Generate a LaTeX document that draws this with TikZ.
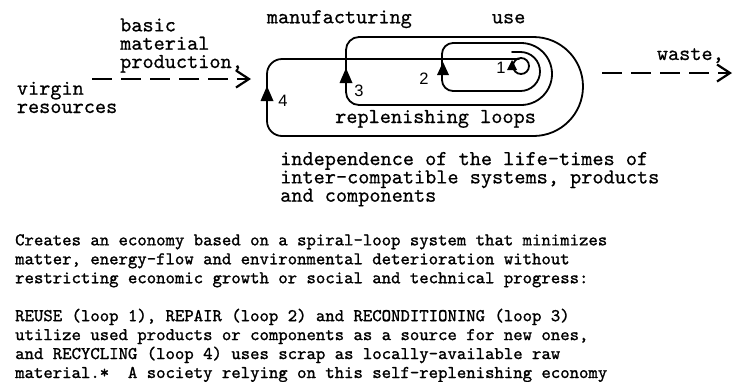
\documentclass[tikz,border=0pt]{standalone}
\usepackage{fontspec}
\newfontfamily\numfont{Liberation Sans}
\newfontfamily\typefont[Extension=.otf, FakeBold=0.6]{lmmono10-regular}
\newfontfamily\bodyfont[Extension=.otf, FakeBold=1.2]{lmmono10-regular}
\usetikzlibrary{arrows.meta}
\tikzset{
  lbl/.style={font=\typefont\fontsize{21.24}{18.3}\selectfont, inner sep=0pt, anchor=base west, align=left},
  body/.style={font=\bodyfont\fontsize{17.9}{18.95}\selectfont, inner sep=0pt, anchor=base west, align=left},
  num/.style={font=\numfont\fontsize{16.5}{16.5}\selectfont, inner sep=0pt},
  loopline/.style={line width=1.8pt, line cap=round, line join=round},
  flow/.style={line width=2.2pt, dash pattern=on 20pt off 9pt, -{Straight Barb[length=13pt,width=17pt,line width=2.2pt]}},
  tip/.style={fill=black}
}
\begin{document}
\begin{tikzpicture}[x=1pt,y=-1pt]
\useasboundingbox (0,0) rectangle (735,381);
% labels (anchored at the baseline of their last line)
\node[lbl] (basic) at (120,68) {basic\\material\\production,};
\node[lbl] (virgin) at (16.7,113) {virgin\\resources};
\node[lbl] (manuf) at (266.7,23.3) {manufacturing};
\node[lbl] (use) at (491.7,23.3) {use};
\node[lbl] (waste) at (656.7,60) {waste,};
\node[lbl] (replen) at (335,123) {replenishing loops};
\node[lbl] (indep) at (280,201.7) {independence of the life-times of\\inter-compatible systems, products\\and components};
% numbers
\node[num] (n4) at (283,101) {4};
\node[num] (n3) at (359,91) {3};
\node[num] (n2) at (424,79) {2};
\node[num] (n1) at (501,68) {1};
% flow arrows
\coordinate (inS) at (92,79);
\coordinate (inE) at (251,79);
\coordinate (outS) at (602,73);
\coordinate (outE) at (732,73);
\draw[flow] (inS) -- (inE);
\draw[flow] (outS) -- (outE);
% spiral loops
\draw[loopline, rounded corners=19.5pt] (512,52) -- (540,52) -- (540,91) -- (460,91);
\draw[loopline, rounded corners=11pt] (470,91) -- (442,91) -- (442,43) -- (500,43);
\draw[loopline, rounded corners=31pt] (490,43) -- (552,43) -- (552,105) -- (480,105);
\draw[loopline, rounded corners=13pt] (490,105) -- (346,105) -- (346,37) -- (420,37);
\draw[loopline, rounded corners=49.5pt] (420,37) -- (583,37) -- (583,136) -- (420,136);
\draw[loopline, rounded corners=15pt] (420,136) -- (267,136) -- (267,59) -- (519,59);
\draw[loopline] (521,66) circle[radius=8pt];
% arrowheads on loops
\fill[tip] (267,86) -- ++(-6.5,15) -- ++(13,0) -- cycle;
\fill[tip] (346,68) -- ++(-6.5,15) -- ++(13,0) -- cycle;
\fill[tip] (443,62) -- ++(-6,13) -- ++(12,0) -- cycle;
\fill[tip] (512,60) -- ++(-5,10) -- ++(10,0) -- cycle;
% body text
\node[body] (body) at (15,378) {Creates an economy based on a spiral-loop system that minimizes\\
matter, energy-flow and environmental deterioration without\\
restricting economic growth or social and technical progress:\\[18.95pt]
REUSE (loop 1), REPAIR (loop 2) and RECONDITIONING (loop 3)\\
utilize used products or components as a source for new ones,\\
and RECYCLING (loop 4) uses scrap as locally-available raw\\
material.*\ \ A society relying on this self-replenishing economy};
\end{tikzpicture}
\end{document}
